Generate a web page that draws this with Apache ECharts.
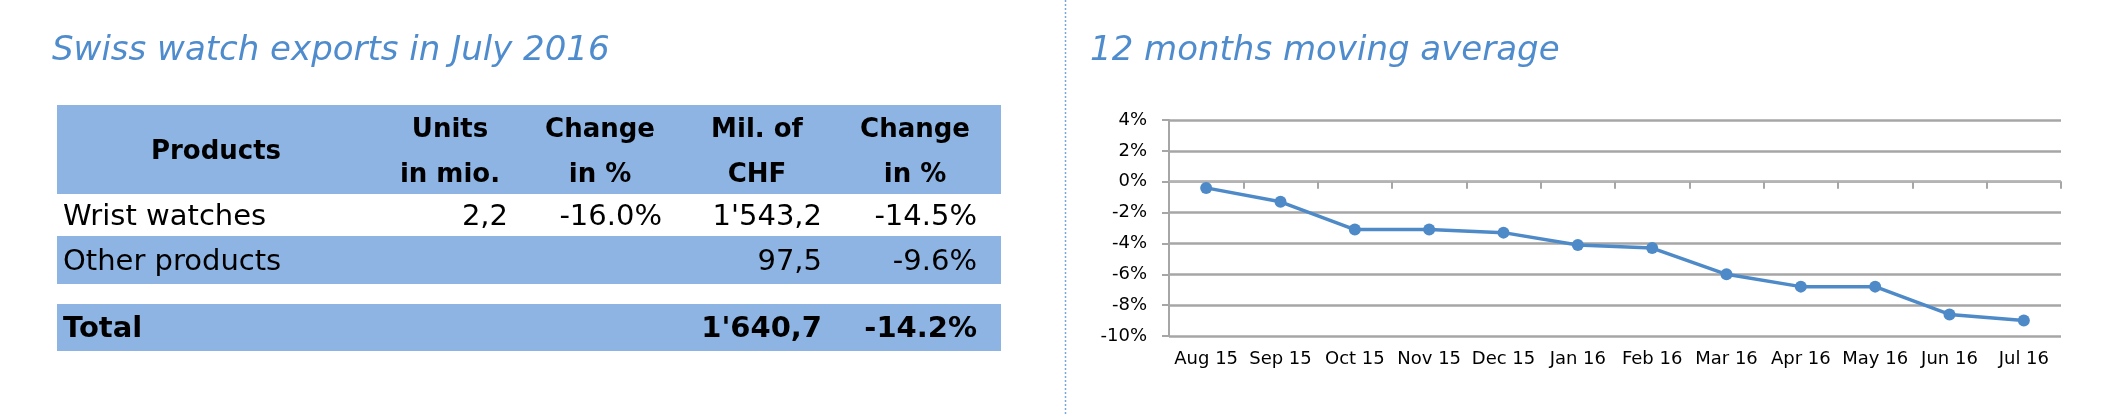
<!DOCTYPE html>
<html>
<head>
<meta charset="utf-8">
<script src="https://cdn.jsdelivr.net/npm/echarts@6/dist/echarts.min.js"></script>
<style>
html, body { margin: 0; padding: 0; background: #fff; }
#main { width: 2108px; height: 414px; }
</style>
</head>
<body>
<div id="main"></div>
<script>
// chart data
var months = ['Aug 15', 'Sep 15', 'Oct 15', 'Nov 15', 'Dec 15', 'Jan 16', 'Feb 16', 'Mar 16', 'Apr 16', 'May 16', 'Jun 16', 'Jul 16'];
var movingAvg = [-0.4, -1.3, -3.1, -3.1, -3.3, -4.1, -4.3, -6.0, -6.8, -6.8, -8.6, -9.0];
var yMin = -10, yMax = 4, yStep = 2;

// table data
var headers = [['Products'], ['Units', 'in mio.'], ['Change', 'in %'], ['Mil. of', 'CHF'], ['Change', 'in %']];
var products = ['Wrist watches', 'Other products', 'Total'];
var units = ['2,2', '', ''];
var unitsChange = ['-16.0%', '', ''];
var chf = ["1'543,2", '97,5', "1'640,7"];
var chfChange = ['-14.5%', '-9.6%', '-14.2%'];

var leftTitle = 'Swiss watch exports in July 2016';
var rightTitle = '12 months moving average';

var blue = '#8db4e2';
var titleBlue = '#4f8ccd';
var lineBlue = '#4e8ac8';
var gridGray = '#a6a6a6';
var font = 'DejaVu Sans';

var chart = echarts.init(document.getElementById('main'));

// table layout
var tableLeft = 57, tableRight = 1001;
var colCenters = [216, 450, 600, 757, 915];
var colRights = [0, 508, 662, 822, 977];
var bands = [
	{ y : 105, h : 89, fill : blue },
	{ y : 194, h : 42, fill : '#fff' },
	{ y : 236, h : 48, fill : blue },
	{ y : 304, h : 47, fill : blue }
];
var rowCenters = [217, 262, 329];

var graphic = [];
bands.forEach(function(b) {
	graphic.push({
		type : 'rect',
		shape : { x : tableLeft, y : b.y, width : tableRight - tableLeft, height : b.h },
		style : { fill : b.fill },
		silent : true
	});
});

function txt(s, x, y, align, bold) {
	return {
		type : 'text',
		x : x,
		y : y,
		style : {
			text : s,
			align : align,
			verticalAlign : 'middle',
			font : (bold ? 'bold ' : '') + (bold ? 26 : 29) + 'px "' + font + '"',
			fill : '#000'
		},
		silent : true
	};
}

headers.forEach(function(h, i) {
	if (h.length === 1) {
		graphic.push(txt(h[0], colCenters[i], 152, 'center', true));
	} else {
		graphic.push(txt(h[0], colCenters[i], 130, 'center', true));
		graphic.push(txt(h[1], colCenters[i], 175, 'center', true));
	}
});

products.forEach(function(p, r) {
	var bold = r === 2;
	var cells = [p, units[r], unitsChange[r], chf[r], chfChange[r]];
	cells.forEach(function(c, i) {
		if (!c) return;
		var t = i === 0 ? txt(c, 63, rowCenters[r], 'left', false) : txt(c, colRights[i], rowCenters[r], 'right', false);
		if (bold) t.style.font = 'bold 29px "' + font + '"';
		graphic.push(t);
	});
});

// titles
[[leftTitle, 52], [rightTitle, 1090]].forEach(function(t) {
	graphic.push({
		type : 'text',
		x : t[1],
		y : 51,
		style : {
			text : t[0],
			verticalAlign : 'middle',
			font : 'italic 34px "' + font + '"',
			fill : titleBlue
		},
		silent : true
	});
});

// dotted divider
graphic.push({
	type : 'line',
	shape : { x1 : 1065.5, y1 : 0, x2 : 1065.5, y2 : 414 },
	style : { stroke : '#7aa6d8', lineWidth : 1.5, lineDash : [2, 2] },
	silent : true
});

var option = {
	animation : false,
	graphic : graphic,
	grid : {
		left : 1169,
		right : 47,
		top : 120,
		bottom : 78
	},
	xAxis : [ {
		type : 'category',
		data : months,
		position : 'bottom',
		boundaryGap : true,
		axisLine : {
			onZero : true,
			lineStyle : { color : '#b4b4b4', width : 2 }
		},
		axisTick : {
			show : true,
			length : 7,
			lineStyle : { color : gridGray, width : 2 }
		},
		axisLabel : { show : false }
	}, {
		type : 'category',
		data : months,
		position : 'bottom',
		boundaryGap : true,
		axisLine : { show : false, onZero : false },
		axisTick : { show : false },
		axisLabel : {
			interval : 0,
			margin : 14,
			fontFamily : font,
			fontSize : 18,
			color : '#000'
		}
	} ],
	yAxis : {
		type : 'value',
		min : yMin,
		max : yMax,
		interval : yStep,
		axisLine : {
			show : true,
			lineStyle : { color : gridGray, width : 2 }
		},
		axisTick : {
			show : true,
			length : 7,
			lineStyle : { color : gridGray, width : 2 }
		},
		axisLabel : {
			formatter : '{value}%',
			margin : 22,
			fontFamily : font,
			fontSize : 18,
			color : '#000'
		},
		splitLine : {
			lineStyle : { color : gridGray, width : 2.5 }
		}
	},
	series : [ {
		type : 'line',
		xAxisIndex : 0,
		data : movingAvg,
		symbol : 'circle',
		symbolSize : 12,
		lineStyle : { width : 3.5, color : lineBlue },
		itemStyle : { color : lineBlue },
		color : lineBlue
	} ]
};
chart.setOption(option);

window.onresize = function() {
	chart.resize();
}
</script>
</body>
</html>
